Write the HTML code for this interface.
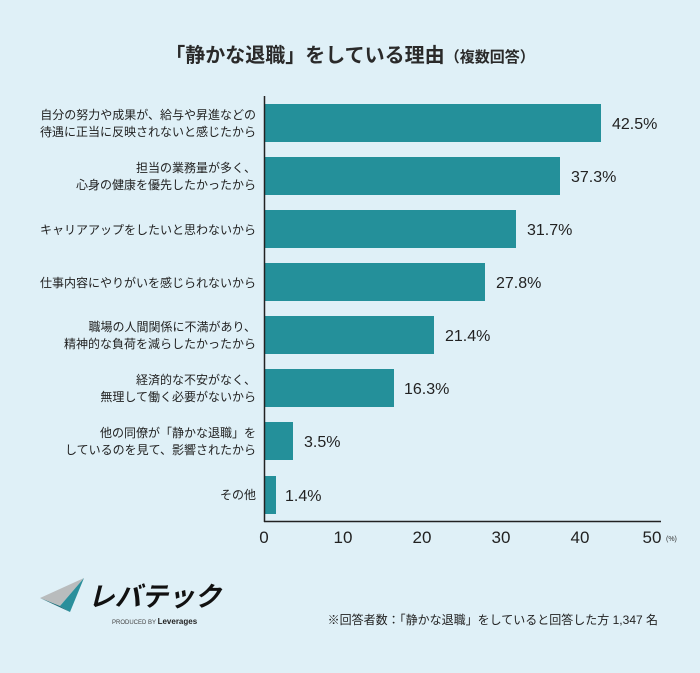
<!DOCTYPE html>
<html><head><meta charset="utf-8"><style>
body{margin:0;width:700px;height:668px;background:#dff0f7;font-family:"Liberation Sans","Noto Sans CJK JP",sans-serif;color:#222;overflow:hidden}
</style></head><body>
<svg width="700" height="668" xmlns="http://www.w3.org/2000/svg" style="font-family:'Liberation Sans','Noto Sans CJK JP',sans-serif">
<rect width="700" height="668" fill="#dff0f7"/>
<text x="350" y="62" text-anchor="middle" font-size="20" font-weight="bold" fill="#2a2a2a">「静かな退職」をしている理由<tspan font-size="15">（複数回答）</tspan></text>
<g fill="#24909a">
<rect x="265" y="104" width="336" height="38"/>
<rect x="265" y="157" width="295" height="38"/>
<rect x="265" y="210" width="251" height="38"/>
<rect x="265" y="263" width="220" height="38"/>
<rect x="265" y="316" width="169" height="38"/>
<rect x="265" y="369" width="129" height="38"/>
<rect x="265" y="422" width="28" height="38"/>
<rect x="265" y="476" width="11" height="38"/>
</g>
<line x1="264.5" y1="96" x2="264.5" y2="522" stroke="#222" stroke-width="1.5"/>
<line x1="264" y1="521.5" x2="661" y2="521.5" stroke="#222" stroke-width="1.5"/>
<g font-size="16" fill="#222">
<text x="612" y="129">42.5%</text>
<text x="571" y="182">37.3%</text>
<text x="527" y="235">31.7%</text>
<text x="496" y="288">27.8%</text>
<text x="445" y="341">21.4%</text>
<text x="404" y="394">16.3%</text>
<text x="304" y="447">3.5%</text>
<text x="285" y="501">1.4%</text>
</g>
<g font-size="12" fill="#222" text-anchor="end">
<text x="256" y="119">自分の努力や成果が、給与や昇進などの</text>
<text x="256" y="136">待遇に正当に反映されないと感じたから</text>
<text x="256" y="172">担当の業務量が多く、</text>
<text x="256" y="189">心身の健康を優先したかったから</text>
<text x="256" y="234">キャリアアップをしたいと思わないから</text>
<text x="256" y="287">仕事内容にやりがいを感じられないから</text>
<text x="256" y="331">職場の人間関係に不満があり、</text>
<text x="256" y="348">精神的な負荷を減らしたかったから</text>
<text x="256" y="384">経済的な不安がなく、</text>
<text x="256" y="401">無理して働く必要がないから</text>
<text x="256" y="437">他の同僚が「静かな退職」を</text>
<text x="256" y="454">しているのを見て、影響されたから</text>
<text x="256" y="499">その他</text>
</g>
<g font-size="17" fill="#222" text-anchor="middle">
<text x="264" y="543">0</text>
<text x="343" y="543">10</text>
<text x="422" y="543">20</text>
<text x="501" y="543">30</text>
<text x="580" y="543">40</text>
<text x="652" y="543">50</text>
</g>
<text x="666" y="541" font-size="7" fill="#333">(%)</text>
<polygon points="40,598 84,578 60,606" fill="#b9bcbd"/>
<polygon points="84,578 60,606 70,612" fill="#2a8f9b"/>
<polygon points="40,598 60,606 70,612" fill="#1f6f7a"/>
<text x="88" y="606" font-size="27" font-weight="bold" fill="#111" font-style="italic" textLength="133" lengthAdjust="spacingAndGlyphs">レバテック</text>
<text x="112" y="624" font-size="6" fill="#444">PRODUCED BY <tspan font-size="8" font-weight="bold" fill="#222">Leverages</tspan></text>
<text x="658" y="624" text-anchor="end" font-size="12" fill="#222">※回答者数：「静かな退職」をしていると回答した方 1,347 名</text>
</svg>
</body></html>
